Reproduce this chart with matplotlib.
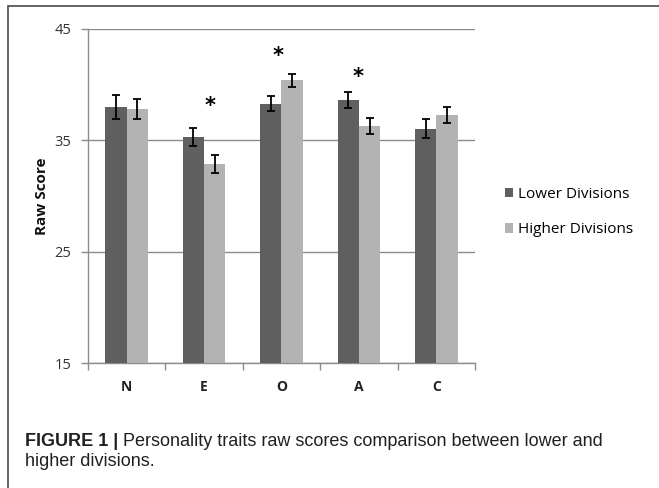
import numpy as np
import matplotlib.pyplot as plt
from matplotlib.patches import Rectangle

# Werte
traits = ['N', 'E', 'O', 'A', 'C']
lower = [38.0, 35.3, 38.3, 38.6, 36.05]
lower_err = [1.05, 0.8, 0.65, 0.7, 0.85]
higher = [37.85, 32.9, 40.4, 36.3, 37.25]
higher_err = [0.9, 0.8, 0.58, 0.7, 0.73]
# Signifikanzsterne (Position in Datenkoordinaten)
star_x = [1.08, 1.95, 2.99]
star_y = [38.1, 42.6, 40.7]

fig = plt.figure(figsize=(6.59, 4.88), dpi=100)
fig.patches.append(Rectangle((8 / 659, -0.1), 1.0, 1.1 - 6 / 488, transform=fig.transFigure,
                             fill=False, edgecolor='#4a4a4a', lw=1.2))
ax = fig.add_axes([0.1335, 0.256, 0.5873, 0.6846])

x = np.arange(len(traits))
w = 0.275
ekw = dict(ecolor='black', elinewidth=1.3, capthick=1.3)
ax.bar(x - w / 2, lower, w, color='#5f5f5f', yerr=lower_err, capsize=3,
       error_kw=ekw, label='Lower Divisions', zorder=3)
ax.bar(x + w / 2, higher, w, color='#b3b3b3', yerr=higher_err, capsize=3,
       error_kw=ekw, label='Higher Divisions', zorder=3)

for sx, sy in zip(star_x, star_y):
    ax.text(sx, sy, '*', ha='center', va='center', fontsize=15,
            fontweight='bold', color='black', zorder=4)

ax.set_ylim(15, 45)
ax.set_xlim(-0.5, 4.5)
ax.set_yticks([15, 25, 35, 45])
ax.set_yticklabels(['15', '25', '35', '45'], fontsize=10.5, family='Open Sans',
                   color='#333333')
ax.set_xticks(x)
ax.set_xticklabels(traits, fontsize=10, fontweight='bold', family='Open Sans',
                   color='#222222')
ax.tick_params(axis='x', length=0, pad=12)
ax.set_xticks(np.arange(-0.5, 5, 1), minor=True)
ax.tick_params(axis='x', which='minor', length=5, color='#8c8c8c', width=1)
ax.tick_params(axis='y', length=5, color='#8c8c8c', width=1, pad=7)
ax.grid(axis='y', color='#8c8c8c', lw=1, zorder=0)
ax.set_axisbelow(True)
for sp in ['top', 'right']:
    ax.spines[sp].set_visible(False)
for sp in ['left', 'bottom']:
    ax.spines[sp].set_color('#8c8c8c')
    ax.spines[sp].set_linewidth(1)

ax.set_ylabel('Raw Score', fontsize=11, fontweight='bold', family='Open Sans',
              labelpad=4, color='#111111')

fig.legend(*ax.get_legend_handles_labels(), loc='center left',
           bbox_to_anchor=(497 / 659, 1 - 212 / 488), frameon=False, borderpad=0,
           prop={'family': 'Open Sans', 'size': 11}, handlelength=0.55,
           handleheight=0.55, labelspacing=1.35, handletextpad=0.3)

cap = fig.text(25 / 659, 1 - 446 / 488, 'FIGURE 1 |', fontsize=13, fontweight='bold',
               family='Liberation Sans', color='#231f20', va='baseline')
ax.annotate(' Personality traits raw scores comparison between lower and',
            xy=(1, 0), xycoords=cap, va='bottom', ha='left', fontsize=13,
            family='Liberation Sans', color='#231f20', annotation_clip=False)
fig.text(25 / 659, 1 - 466 / 488, 'higher divisions.', fontsize=13,
         family='Liberation Sans', color='#231f20', va='baseline')

fig.savefig('out.png', dpi=100)
